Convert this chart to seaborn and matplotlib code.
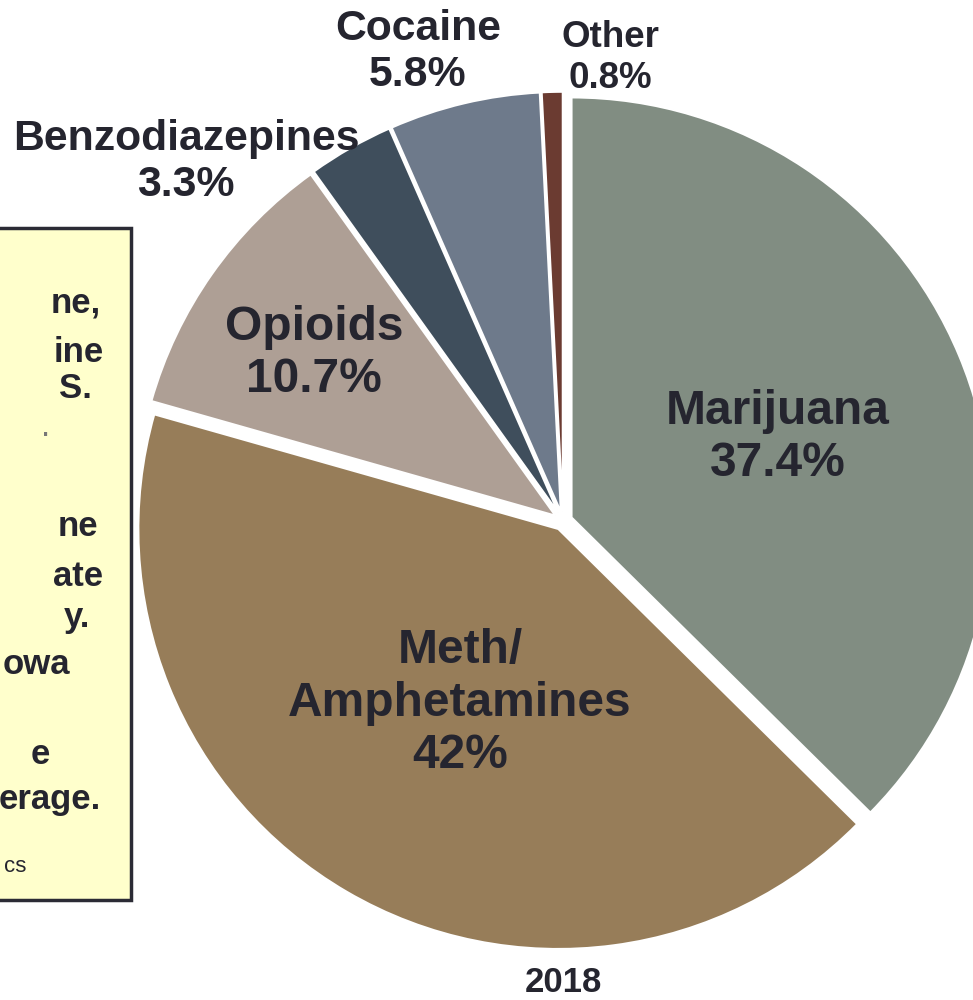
import numpy as np
import pandas as pd
import matplotlib.pyplot as plt
import matplotlib.patches as mpatches
import seaborn as sns

# dados
drogas = ['Marijuana', 'Meth/\nAmphetamines', 'Opioids', 'Benzodiazepines', 'Cocaine', 'Other']
percentuais = [37.4, 42.0, 10.7, 3.3, 5.8, 0.8]
rotulos_pct = ['37.4%', '42%', '10.7%', '3.3%', '5.8%', '0.8%']
cores = ['#818d82', '#977d59', '#ae9f95', '#3f4e5c', '#6e7a8b', '#6b3b31']
ano = '2018'

# fragmentos visiveis da caixa de texto (cortada na esquerda)
caixa_linhas = ['ne,', 'ine', 'S.', 'ne', 'ate', 'y.', 'owa', 'e', 'erage.']

sns.set_theme(style='white')
plt.rcParams['font.family'] = ['Liberation Sans', 'DejaVu Sans']
texto_cor = '#25252f'

W, H = 973, 1000
fig = plt.figure(figsize=(W / 100, H / 100), dpi=100)

def fx(px):
    return px / W

def fy(py):
    return 1 - py / H

# pizza
cx, cy, R = 563, 521, 420
lim = 1.1
ax = fig.add_axes([fx(cx - R * lim), fy(cy + R * lim), 2 * R * lim / W, 2 * R * lim / H])
ax.pie(percentuais, colors=sns.color_palette(cores), startangle=90, counterclock=False,
       explode=[0.022] * len(percentuais), radius=1,
       wedgeprops=dict(edgecolor='white', linewidth=1.5))
ax.set_xlim(-lim, lim)
ax.set_ylim(-lim, lim)
ax.set_aspect('equal')
ax.axis('off')

# rotulos
rot = pd.DataFrame({
    'nome': drogas,
    'pct': rotulos_pct,
    'x': [778, 460, 314, 186, 418, 610],
    'y': [437, 703, 354, 162, 52, 58],
    'size': [34.5, 34.5, 34.5, 30.8, 30.8, 26.5],
})
for _, r in rot.iterrows():
    fig.text(fx(r['x']), fy(r['y']), r['nome'] + '\n' + r['pct'], ha='center', va='center',
             fontsize=r['size'], fontweight='bold', color=texto_cor, linespacing=1.2)

fig.text(fx(563), fy(983), ano, ha='center', va='center', fontsize=25,
         fontweight='bold', color=texto_cor)

# caixa amarela
caixa = mpatches.Rectangle((fx(-10), fy(900)), fx(141), (900 - 228) / H,
                           transform=fig.transFigure, facecolor='#ffffcc',
                           edgecolor='#2b2b35', linewidth=2.5, zorder=0)
fig.patches.append(caixa)

pos_x = [101, 104, 92, 98, 103, 90, 70, 50, 101]
pos_y = [303, 352, 388, 527, 577, 617, 665, 755, 800]
for t, x, y in zip(caixa_linhas, pos_x, pos_y):
    fig.text(fx(x), fy(y), t, ha='right', va='center', fontsize=25,
             fontweight='bold', color=texto_cor)
fig.text(fx(50), fy(428), '.', ha='right', va='center', fontsize=24, color='#777777')
fig.text(fx(26), fy(866), 'cs', ha='right', va='center', fontsize=16, color=texto_cor)

plt.savefig('out.png', dpi=100)
